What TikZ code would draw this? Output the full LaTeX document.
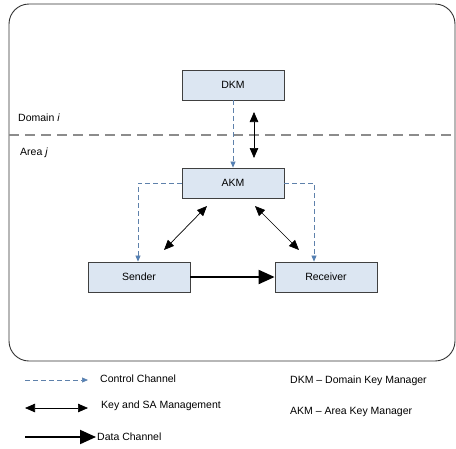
\documentclass[tikz,border=0pt]{standalone}
\usepackage{fontspec}
\setmainfont{Liberation Sans}
\usetikzlibrary{arrows.meta}

\definecolor{boxfill}{HTML}{DCE6F2}
\definecolor{ctrlblue}{HTML}{4F81BD}

\tikzset{
  entity/.style={draw=black!75, fill=boxfill, line width=0.8pt,
    minimum width=102, minimum height=30, inner sep=0pt},
  ctrl/.style={dash pattern=on 5pt off 3pt, draw=ctrlblue!70!gray, line width=0.7pt,
    -{Triangle[length=6pt,width=5pt,fill=ctrlblue]}},
  keymgmt/.style={line width=0.7pt,
    {Triangle[length=10pt,width=8.5pt]}-{Triangle[length=10pt,width=8.5pt]}},
  datach/.style={line width=2pt, -{Triangle[length=16pt,width=14pt]}},
  lbl/.style={anchor=west, inner sep=0pt}
}

\begin{document}
\begin{tikzpicture}[x=1pt,y=-1pt,font=\fontsize{10.5}{12.5}\selectfont]
\useasboundingbox (0,0) rectangle (456,448);

% Frame and domain border
\draw[black!80, line width=0.9pt, rounded corners=20pt] (9,4) rectangle (455,361);
\draw[black!45, line width=1.3pt, dash pattern=on 10pt off 6pt] (9,135) -- (456,135);
\node[lbl] (domain) at (18,118) {Domain \textit{i}};
\node[lbl] (area) at (20,153) {Area \textit{j}};

% Entities
\node[entity] (dkm) at (233,85) {DKM};
\node[entity] (akm) at (233,183) {AKM};
\node[entity] (sender) at (139,277) {Sender};
\node[entity] (receiver) at (326,277) {Receiver};

% Control channel
\draw[ctrl] (dkm.south) -- (akm.north);
\draw[ctrl] (akm.west) -| ([xshift=-1pt]sender.north);
\draw[ctrl] (akm.east) -| ([xshift=-12pt]receiver.north);

% Key and SA management
\coordinate (kd) at (254,112);
\coordinate (ka) at (254,158);
\draw[keymgmt] (kd) -- (ka);
\coordinate (sa1) at (207,206);
\coordinate (sa2) at (164,250);
\draw[keymgmt] (sa1) -- (sa2);
\coordinate (ra1) at (255,206);
\coordinate (ra2) at (299,250);
\draw[keymgmt] (ra1) -- (ra2);

% Data channel
\draw[datach] (sender.east) -- (receiver.west);

% ---- Legend ----
\coordinate (c1) at (25,380);
\coordinate (c2) at (88,380);
\draw[ctrl] (c1) -- (c2);
\node[lbl] (ctrltxt) at (100,379) {Control Channel};

\coordinate (k1) at (25,408);
\coordinate (k2) at (88,408);
\draw[keymgmt] (k1) -- (k2);
\node[lbl] (keytxt) at (101,406) {Key and SA Management};

\coordinate (d1) at (25,437);
\coordinate (d2) at (96,437);
\draw[datach] (d1) -- (d2);
\node[lbl] (datatxt) at (97,437) {Data Channel};

\node[lbl] (dkmtxt) at (290,381) {DKM -- Domain Key Manager};
\node[lbl] (akmtxt) at (290,412) {AKM -- Area Key Manager};

\end{tikzpicture}
\end{document}
